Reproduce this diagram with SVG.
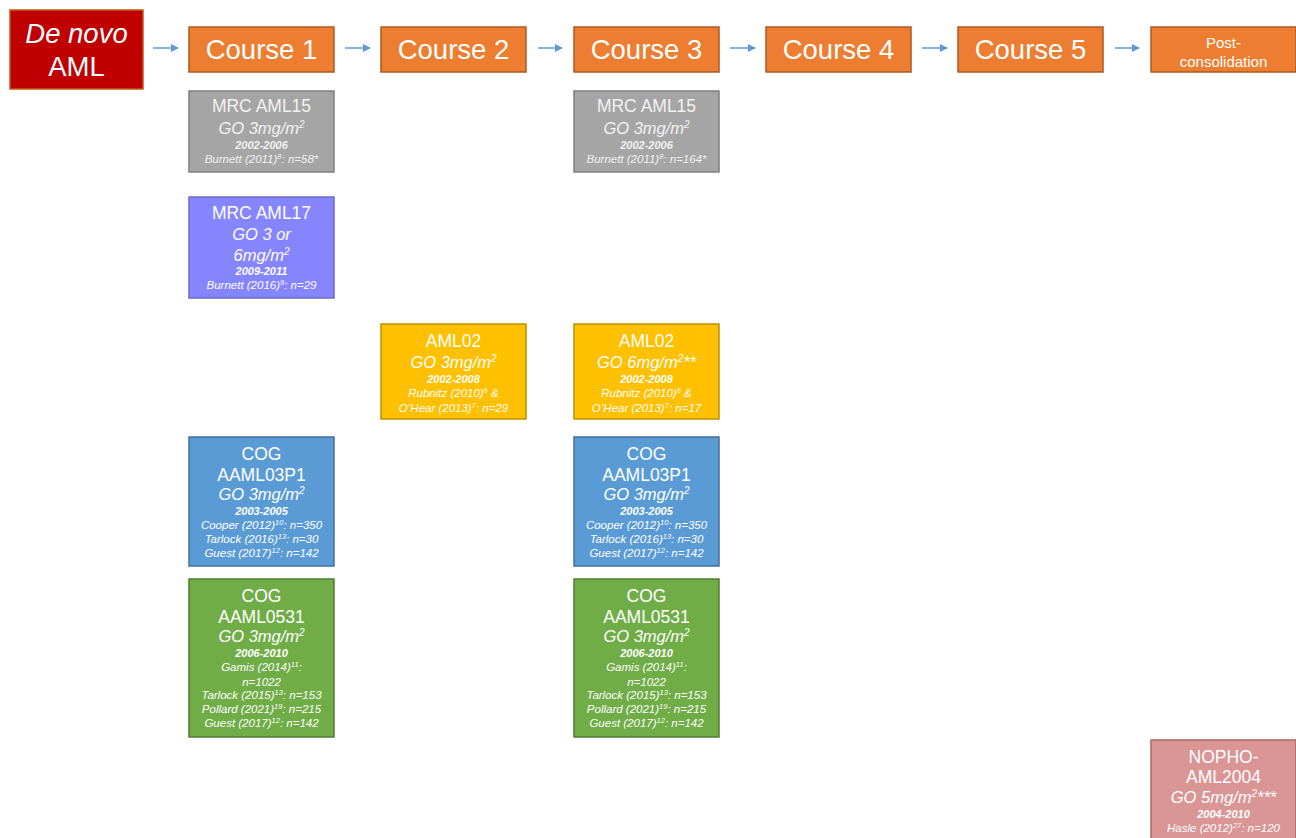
<svg xmlns="http://www.w3.org/2000/svg" width="1296" height="838" viewBox="0 0 1296 838">
<defs>
<marker id="ah" markerWidth="8" markerHeight="8" refX="7" refY="4" orient="auto" markerUnits="userSpaceOnUse">
<path d="M0,0 L8,4 L0,8 Z" fill="#5B9BD5"/>
</marker>
<style>
text{font-family:"Liberation Sans",Arial,sans-serif;fill:#fff;text-anchor:middle}
.course rect{fill:#ED7D31;stroke:#AE5A21;stroke-width:1.5}
.c{font-size:27.5px}
.h{font-size:17.5px}
.g{font-size:16.5px;font-style:italic}
.y{font-size:11px;font-style:italic;font-weight:bold}
.r{font-size:11.5px;font-style:italic}
.conn line{stroke:#5B9BD5;stroke-width:1.5}
.gray text{fill:#F2F2F2}
</style>
</defs>
<rect width="1296" height="838" fill="#fff"/>
<g id="denovo">
<rect x="10" y="10" width="133" height="79" fill="#C00000" stroke="#C55A11" stroke-width="1.5"/>
<text x="76.5" y="43" class="c" font-style="italic">De novo</text>
<text x="76.5" y="76" class="c">AML</text>
</g>
<g id="course1" class="course"><rect x="189" y="27" width="145" height="45"/><text x="261.5" y="59" class="c">Course 1</text></g>
<g id="course2" class="course"><rect x="381" y="27" width="145" height="45"/><text x="453.5" y="59" class="c">Course 2</text></g>
<g id="course3" class="course"><rect x="574" y="27" width="145" height="45"/><text x="646.5" y="59" class="c">Course 3</text></g>
<g id="course4" class="course"><rect x="766" y="27" width="145" height="45"/><text x="838.5" y="59" class="c">Course 4</text></g>
<g id="course5" class="course"><rect x="958" y="27" width="145" height="45"/><text x="1030.5" y="59" class="c">Course 5</text></g>
<g id="postcons" class="course"><rect x="1151" y="27" width="145" height="45"/>
<text x="1223.5" y="48" font-size="15">Post-</text>
<text x="1223.5" y="67" font-size="15">consolidation</text></g>
<g id="connectors" class="conn">
<line x1="153" y1="48" x2="178" y2="48" marker-end="url(#ah)"/>
<line x1="345" y1="48" x2="370" y2="48" marker-end="url(#ah)"/>
<line x1="538" y1="48" x2="562" y2="48" marker-end="url(#ah)"/>
<line x1="730" y1="48" x2="755" y2="48" marker-end="url(#ah)"/>
<line x1="922" y1="48" x2="947" y2="48" marker-end="url(#ah)"/>
<line x1="1115" y1="48" x2="1139" y2="48" marker-end="url(#ah)"/>
</g>
<g id="mrc15a" class="gray">
<rect x="189" y="91" width="145" height="81" fill="#A5A5A5" stroke="#7F7F7F" stroke-width="1.5"/>
<text x="261.5" y="112" class="h">MRC AML15</text>
<text x="261.5" y="134" class="g">GO 3mg/m<tspan dy="-6" font-size="10">2</tspan></text>
<text x="261.5" y="149" class="y">2002-2006</text>
<text x="261.5" y="163" class="r">Burnett (2011)<tspan dy="-4" font-size="7.5">8</tspan><tspan dy="4">: n=58*</tspan></text>
</g>
<g id="mrc15b" class="gray">
<rect x="574" y="91" width="145" height="81" fill="#A5A5A5" stroke="#7F7F7F" stroke-width="1.5"/>
<text x="646.5" y="112" class="h">MRC AML15</text>
<text x="646.5" y="134" class="g">GO 3mg/m<tspan dy="-6" font-size="10">2</tspan></text>
<text x="646.5" y="149" class="y">2002-2006</text>
<text x="646.5" y="163" class="r">Burnett (2011)<tspan dy="-4" font-size="7.5">8</tspan><tspan dy="4">: n=164*</tspan></text>
</g>
<g id="mrc17">
<rect x="189" y="197" width="145" height="101" fill="#8585FF" stroke="#6B6BCC" stroke-width="1.5"/>
<text x="261.5" y="219" class="h">MRC AML17</text>
<text x="261.5" y="240" class="g">GO 3 or</text>
<text x="261.5" y="261" class="g">6mg/m<tspan dy="-6" font-size="10">2</tspan></text>
<text x="261.5" y="275" class="y">2009-2011</text>
<text x="261.5" y="289" class="r">Burnett (2016)<tspan dy="-4" font-size="7.5">9</tspan><tspan dy="4">: n=29</tspan></text>
</g>
<g id="aml02a">
<rect x="381" y="324" width="145" height="95" fill="#FFC000" stroke="#BF9000" stroke-width="1.5"/>
<text x="453.5" y="347" class="h">AML02</text>
<text x="453.5" y="368" class="g">GO 3mg/m<tspan dy="-6" font-size="10">2</tspan></text>
<text x="453.5" y="383" class="y">2002-2008</text>
<text x="453.5" y="397" class="r">Rubnitz (2010)<tspan dy="-4" font-size="7.5">6</tspan><tspan dy="4"> &amp;</tspan></text>
<text x="453.5" y="412" class="r">O’Hear (2013)<tspan dy="-4" font-size="7.5">7</tspan><tspan dy="4">: n=29</tspan></text>
</g>
<g id="aml02b">
<rect x="574" y="324" width="145" height="95" fill="#FFC000" stroke="#BF9000" stroke-width="1.5"/>
<text x="646.5" y="347" class="h">AML02</text>
<text x="646.5" y="368" class="g">GO 6mg/m<tspan dy="-6" font-size="10">2</tspan><tspan dy="6">**</tspan></text>
<text x="646.5" y="383" class="y">2002-2008</text>
<text x="646.5" y="397" class="r">Rubnitz (2010)<tspan dy="-4" font-size="7.5">6</tspan><tspan dy="4"> &amp;</tspan></text>
<text x="646.5" y="412" class="r">O’Hear (2013)<tspan dy="-4" font-size="7.5">7</tspan><tspan dy="4">: n=17</tspan></text>
</g>
<g id="cog03a">
<rect x="189" y="437" width="145" height="129" fill="#5B9BD5" stroke="#41719C" stroke-width="1.5"/>
<text x="261.5" y="460" class="h">COG</text>
<text x="261.5" y="481" class="h">AAML03P1</text>
<text x="261.5" y="500" class="g">GO 3mg/m<tspan dy="-6" font-size="10">2</tspan></text>
<text x="261.5" y="515" class="y">2003-2005</text>
<text x="261.5" y="529" class="r">Cooper (2012)<tspan dy="-4" font-size="7.5">10</tspan><tspan dy="4">: n=350</tspan></text>
<text x="261.5" y="543" class="r">Tarlock (2016)<tspan dy="-4" font-size="7.5">13</tspan><tspan dy="4">: n=30</tspan></text>
<text x="261.5" y="557" class="r">Guest (2017)<tspan dy="-4" font-size="7.5">12</tspan><tspan dy="4">: n=142</tspan></text>
</g>
<g id="cog03b">
<rect x="574" y="437" width="145" height="129" fill="#5B9BD5" stroke="#41719C" stroke-width="1.5"/>
<text x="646.5" y="460" class="h">COG</text>
<text x="646.5" y="481" class="h">AAML03P1</text>
<text x="646.5" y="500" class="g">GO 3mg/m<tspan dy="-6" font-size="10">2</tspan></text>
<text x="646.5" y="515" class="y">2003-2005</text>
<text x="646.5" y="529" class="r">Cooper (2012)<tspan dy="-4" font-size="7.5">10</tspan><tspan dy="4">: n=350</tspan></text>
<text x="646.5" y="543" class="r">Tarlock (2016)<tspan dy="-4" font-size="7.5">13</tspan><tspan dy="4">: n=30</tspan></text>
<text x="646.5" y="557" class="r">Guest (2017)<tspan dy="-4" font-size="7.5">12</tspan><tspan dy="4">: n=142</tspan></text>
</g>
<g id="cog0531a">
<rect x="189" y="579" width="145" height="158" fill="#70AD47" stroke="#507E32" stroke-width="1.5"/>
<text x="261.5" y="602" class="h">COG</text>
<text x="261.5" y="623" class="h">AAML0531</text>
<text x="261.5" y="642" class="g">GO 3mg/m<tspan dy="-6" font-size="10">2</tspan></text>
<text x="261.5" y="657" class="y">2006-2010</text>
<text x="261.5" y="671" class="r">Gamis (2014)<tspan dy="-4" font-size="7.5">11</tspan><tspan dy="4">:</tspan></text>
<text x="261.5" y="686" class="r">n=1022</text>
<text x="261.5" y="699" class="r">Tarlock (2015)<tspan dy="-4" font-size="7.5">13</tspan><tspan dy="4">: n=153</tspan></text>
<text x="261.5" y="713" class="r">Pollard (2021)<tspan dy="-4" font-size="7.5">19</tspan><tspan dy="4">: n=215</tspan></text>
<text x="261.5" y="727" class="r">Guest (2017)<tspan dy="-4" font-size="7.5">12</tspan><tspan dy="4">: n=142</tspan></text>
</g>
<g id="cog0531b">
<rect x="574" y="579" width="145" height="158" fill="#70AD47" stroke="#507E32" stroke-width="1.5"/>
<text x="646.5" y="602" class="h">COG</text>
<text x="646.5" y="623" class="h">AAML0531</text>
<text x="646.5" y="642" class="g">GO 3mg/m<tspan dy="-6" font-size="10">2</tspan></text>
<text x="646.5" y="657" class="y">2006-2010</text>
<text x="646.5" y="671" class="r">Gamis (2014)<tspan dy="-4" font-size="7.5">11</tspan><tspan dy="4">:</tspan></text>
<text x="646.5" y="686" class="r">n=1022</text>
<text x="646.5" y="699" class="r">Tarlock (2015)<tspan dy="-4" font-size="7.5">13</tspan><tspan dy="4">: n=153</tspan></text>
<text x="646.5" y="713" class="r">Pollard (2021)<tspan dy="-4" font-size="7.5">19</tspan><tspan dy="4">: n=215</tspan></text>
<text x="646.5" y="727" class="r">Guest (2017)<tspan dy="-4" font-size="7.5">12</tspan><tspan dy="4">: n=142</tspan></text>
</g>
<g id="nopho">
<rect x="1151" y="740" width="145" height="110" fill="#D99694" stroke="#A86866" stroke-width="1.5"/>
<text x="1223.5" y="763" class="h">NOPHO-</text>
<text x="1223.5" y="783" class="h">AML2004</text>
<text x="1223.5" y="803" class="g">GO 5mg/m<tspan dy="-6" font-size="10">2</tspan><tspan dy="6">***</tspan></text>
<text x="1223.5" y="818" class="y">2004-2010</text>
<text x="1223.5" y="832" class="r">Hasle (2012)<tspan dy="-4" font-size="7.5">27</tspan><tspan dy="4">: n=120</tspan></text>
</g>
</svg>
